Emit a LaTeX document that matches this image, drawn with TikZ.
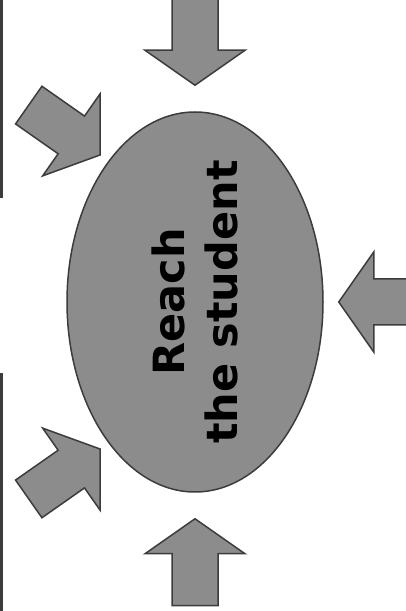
\documentclass[tikz,border=0pt]{standalone}
\usepackage{fontspec}
\usetikzlibrary{positioning, calc, shapes.geometric}
\newfontfamily\reachfont{DejaVu Sans}
\definecolor{PadGray}{RGB}{140, 140, 140}
\definecolor{PadEdge}{RGB}{60, 60, 60}
\tikzset{
  core/.style={ellipse, draw=PadEdge, line width=1.5pt, fill=PadGray, inner sep=0pt},
  label/.style={align=center, inner sep=0pt, font={\reachfont\bfseries\fontsize{43}{53}\selectfont}},
  bigarrow/.style={draw=PadEdge, line width=1.5pt, fill=PadGray, line join=miter},
  edgebar/.style={PadEdge, line width=3pt},
  pointer/.pic={\path[bigarrow] (-87,-23) -- (-35,-23) -- (-35,-50) -- (0,0) -- (-35,50) -- (-35,23) -- (-87,23) -- cycle;},
}

\begin{document}
\begin{tikzpicture}[x=1pt, y=1pt]
    \useasboundingbox (0,0) rectangle (405,611);
    \draw[edgebar] (1.5,413) -- (1.5,611);
    \draw[edgebar] (1.5,0) -- (1.5,238);
    \node[core, minimum width=256pt, minimum height=380pt] (student) at (195,309) {};
    \node[label, rotate=90] (reach) at (student.center) {Reach\\the student};
    \coordinate (tipN) at ($(student.north)+(0,26)$);
    \coordinate (tipS) at ($(student.south)+(0,-26)$);
    \coordinate (tipE) at ($(student.east)+(15,0)$);
    \coordinate (tipNW) at (100,456);
    \coordinate (tipSW) at (100,162);
    \pic[rotate=-90] at (tipN) {pointer};
    \pic[rotate=90] at (tipS) {pointer};
    \pic[rotate=180] at (tipE) {pointer};
    \pic[rotate=-35] at (tipNW) {pointer};
    \pic[rotate=35] at (tipSW) {pointer};
  \end{tikzpicture}
\end{document}
